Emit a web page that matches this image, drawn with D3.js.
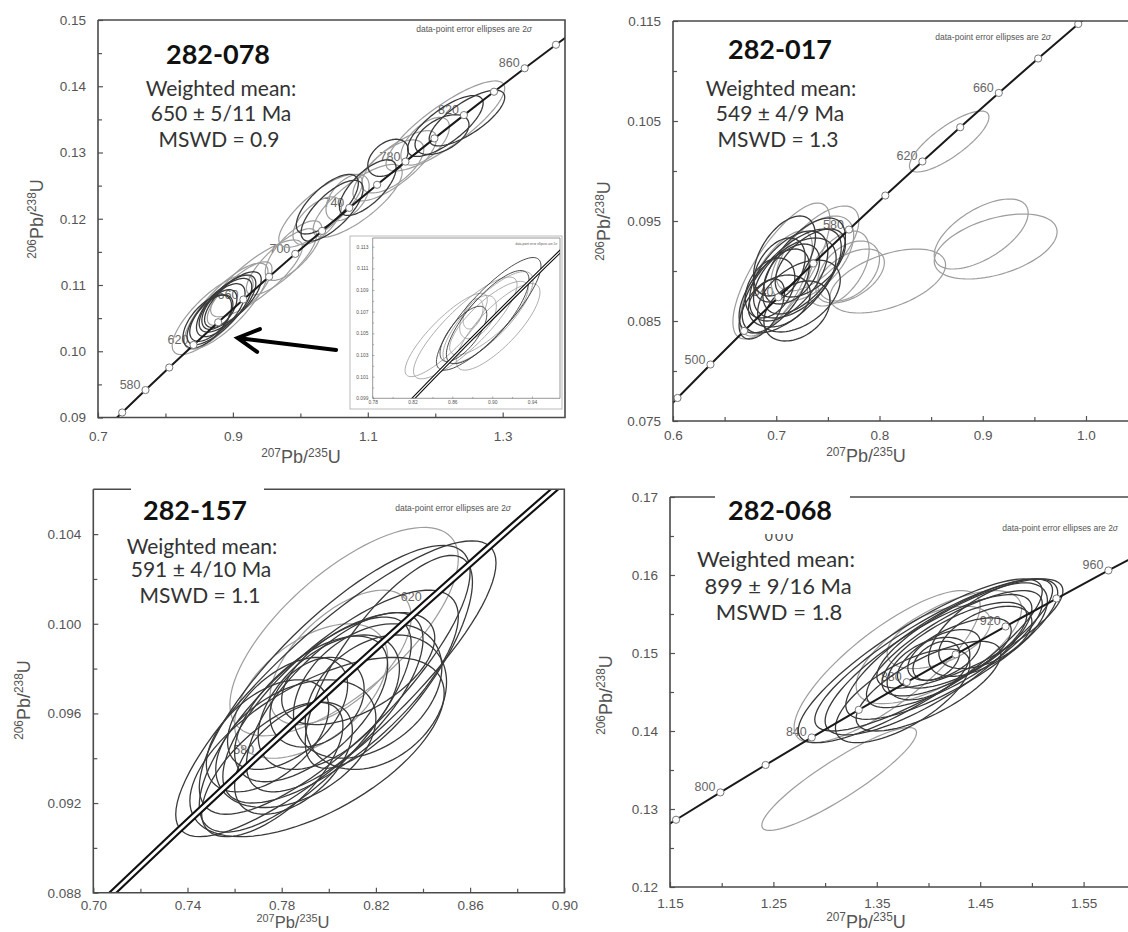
<!DOCTYPE html>
<html>
<head>
<meta charset="utf-8">
<script src="https://cdn.jsdelivr.net/npm/d3@7"></script>
<style>
  body { margin: 0; background: #fff; }
  svg { display: block; }
</style>
</head>
<body>
<svg id="fig" width="1128" height="932"></svg>
<script>
// concordia reference points: age (Ma), 207Pb/235U, 206Pb/238U
const concAge = [460, 480, 500, 520, 540, 560, 580, 600, 620, 640, 660, 680, 700, 720, 740, 760, 780, 800, 820, 840, 860, 880, 900, 920, 940, 960, 980, 1000];
const concX = [0.57307, 0.60437, 0.63628, 0.66883, 0.70203, 0.73588, 0.77041, 0.80563, 0.84155, 0.87818, 0.91554, 0.95365, 0.99251, 1.03214, 1.07257, 1.11380, 1.15585, 1.19873, 1.24247, 1.28708, 1.33257, 1.37897, 1.42630, 1.47456, 1.52378, 1.57399, 1.62519, 1.67741];
const concY = [0.073965, 0.077302, 0.08065, 0.084008, 0.087376, 0.090755, 0.094144, 0.097544, 0.100954, 0.104376, 0.107807, 0.111249, 0.114702, 0.118166, 0.12164, 0.125126, 0.128622, 0.132129, 0.135646, 0.139175, 0.142715, 0.146266, 0.149828, 0.153401, 0.156985, 0.16058, 0.164186, 0.167804];

// analyses: [207Pb/235U, 206Pb/238U, 2s x, 2s y, rho]; used = in weighted mean
const e078 = [
  [0.870, 0.1055, 0.060, 0.0060, 0.78], [0.880, 0.1060, 0.048, 0.0050, 0.75], [0.882, 0.1062, 0.036, 0.0040, 0.65],
  [0.892, 0.1072, 0.042, 0.0043, 0.70], [0.868, 0.1050, 0.032, 0.0035, 0.60], [0.900, 0.1078, 0.042, 0.0042, 0.72],
  [0.880, 0.1063, 0.026, 0.0030, 0.55], [0.910, 0.1087, 0.048, 0.0048, 0.78], [0.935, 0.1110, 0.068, 0.0058, 0.82],
  [0.972, 0.1135, 0.052, 0.0050, 0.80], [0.890, 0.1068, 0.062, 0.0065, 0.80], [0.862, 0.1045, 0.036, 0.0040, 0.60],
  [1.030, 0.1212, 0.062, 0.0055, 0.78], [1.040, 0.1222, 0.046, 0.0045, 0.70], [1.047, 0.1212, 0.046, 0.0046, 0.72],
  [1.085, 0.1227, 0.066, 0.0055, 0.78], [1.070, 0.1232, 0.032, 0.0035, 0.50], [1.100, 0.1247, 0.042, 0.0042, 0.70],
  [1.025, 0.1197, 0.036, 0.0036, 0.60], [1.140, 0.1280, 0.062, 0.0053, 0.78], [1.130, 0.1292, 0.030, 0.0028, 0.40],
  [1.137, 0.1279, 0.046, 0.0040, 0.65], [1.215, 0.1340, 0.088, 0.0068, 0.84], [1.215, 0.1340, 0.056, 0.0046, 0.75],
  [1.210, 0.1327, 0.040, 0.0030, 0.50], [1.185, 0.1317, 0.036, 0.0036, 0.60], [1.247, 0.1352, 0.056, 0.0042, 0.75],
  [0.990, 0.1152, 0.042, 0.0045, 0.72]
];
const used078 = [0, 1, 1, 1, 1, 1, 1, 0, 0, 0, 0, 1, 0, 1, 1, 0, 0, 1, 0, 0, 1, 0, 0, 1, 1, 0, 1, 0];

// inset of 282-078 (young cluster)
const e078i = [
  [0.8538, 0.10485, 0.0413, 0.00385, 0.85], [0.8965, 0.1068, 0.0525, 0.0052, 0.85], [0.8958, 0.10645, 0.0452, 0.00425, 0.80],
  [0.8967, 0.1064, 0.0394, 0.0034, 0.80], [0.8858, 0.1065, 0.0184, 0.0020, 0.50], [0.8808, 0.1068, 0.0100, 0.0014, 0.40],
  [0.8711, 0.10495, 0.0235, 0.00255, 0.70], [0.873, 0.1055, 0.052, 0.0047, 0.85], [0.906, 0.1056, 0.042, 0.0040, 0.80],
  [0.8955, 0.1065, 0.0415, 0.0043, 0.80]
];
const used078i = [0, 1, 0, 0, 0, 0, 1, 0, 0, 1];

const e017 = [
  [0.8675, 0.10295, 0.0385, 0.00305, 0.80], [0.8985, 0.0937, 0.0455, 0.0035, 0.60], [0.9125, 0.09245, 0.0595, 0.00325, 0.45],
  [0.808, 0.0890, 0.056, 0.0032, 0.50], [0.7716, 0.0895, 0.0331, 0.0027, 0.50], [0.715, 0.0890, 0.048, 0.0052, 0.65],
  [0.712, 0.0895, 0.038, 0.0045, 0.55], [0.718, 0.0893, 0.040, 0.0040, 0.50], [0.715, 0.0897, 0.027, 0.0030, 0.45],
  [0.698, 0.0880, 0.034, 0.0042, 0.60], [0.722, 0.0875, 0.040, 0.0036, 0.45], [0.694, 0.0883, 0.024, 0.0030, 0.35],
  [0.733, 0.0908, 0.034, 0.0034, 0.55], [0.703, 0.0901, 0.025, 0.0032, 0.40], [0.703, 0.0870, 0.030, 0.0026, 0.30],
  [0.720, 0.0860, 0.032, 0.0030, 0.35], [0.686, 0.0862, 0.022, 0.0030, 0.55], [0.705, 0.0900, 0.047, 0.0068, 0.75],
  [0.740, 0.09225, 0.040, 0.00425, 0.65], [0.760, 0.09025, 0.030, 0.00375, 0.50], [0.700, 0.08875, 0.035, 0.00525, 0.70],
  [0.735, 0.09125, 0.040, 0.00425, 0.55], [0.770, 0.0900, 0.030, 0.0030, 0.40], [0.727, 0.0905, 0.040, 0.0048, 0.60],
  [0.708, 0.0915, 0.030, 0.0040, 0.50]
];
const used017 = [0, 0, 0, 0, 0, 1, 1, 1, 1, 1, 1, 1, 1, 1, 1, 1, 1, 0, 0, 0, 0, 0, 0, 1, 1];

const e157 = [
  [0.8065, 0.09965, 0.0485, 0.00465, 0.70], [0.803, 0.0971, 0.068, 0.0066, 0.85], [0.795, 0.0945, 0.054, 0.0040, 0.60],
  [0.8025, 0.0975, 0.0575, 0.0060, 0.80], [0.805, 0.09675, 0.050, 0.00475, 0.75], [0.8025, 0.0965, 0.0375, 0.0040, 0.70],
  [0.7925, 0.0962, 0.0325, 0.00325, 0.60], [0.800, 0.0965, 0.030, 0.0030, 0.50], [0.795, 0.0965, 0.020, 0.0020, 0.30],
  [0.8125, 0.0980, 0.0325, 0.0025, 0.55], [0.8165, 0.0970, 0.0315, 0.0030, 0.35], [0.820, 0.0965, 0.030, 0.0030, 0.30],
  [0.785, 0.0940, 0.025, 0.0025, 0.50], [0.786, 0.09465, 0.034, 0.00285, 0.40], [0.774, 0.0950, 0.026, 0.0025, 0.50],
  [0.7825, 0.0960, 0.0255, 0.0025, 0.50], [0.7925, 0.0970, 0.0325, 0.0030, 0.50], [0.805, 0.0985, 0.030, 0.0030, 0.60],
  [0.8255, 0.0983, 0.0355, 0.00475, 0.75], [0.790, 0.0955, 0.045, 0.0048, 0.75], [0.776, 0.0935, 0.030, 0.0030, 0.65]
];
const used157 = [0, 1, 1, 1, 1, 1, 1, 1, 1, 1, 1, 1, 1, 1, 1, 1, 0, 0, 1, 1, 1];

const e068 = [
  [1.3136, 0.13385, 0.0748, 0.0066, 0.90], [1.360, 0.14825, 0.090, 0.00975, 0.80], [1.392, 0.1490, 0.118, 0.0105, 0.85],
  [1.405, 0.14975, 0.115, 0.00975, 0.85], [1.4225, 0.1505, 0.1025, 0.0090, 0.80], [1.400, 0.1485, 0.100, 0.0090, 0.80],
  [1.425, 0.1505, 0.085, 0.0075, 0.78], [1.425, 0.1505, 0.070, 0.0060, 0.72], [1.425, 0.1500, 0.055, 0.0045, 0.65],
  [1.415, 0.14975, 0.035, 0.00325, 0.50], [1.4075, 0.1490, 0.0225, 0.0025, 0.40], [1.400, 0.14575, 0.070, 0.00575, 0.72],
  [1.375, 0.1445, 0.065, 0.0060, 0.68], [1.455, 0.1520, 0.045, 0.0040, 0.50], [1.400, 0.1480, 0.040, 0.0040, 0.45],
  [1.440, 0.1525, 0.090, 0.0070, 0.78], [1.4575, 0.1530, 0.0575, 0.0060, 0.62], [1.410, 0.15075, 0.080, 0.00725, 0.68],
  [1.410, 0.1520, 0.050, 0.0040, 0.50]
];
const used068 = [0, 0, 1, 1, 1, 1, 1, 1, 1, 1, 1, 1, 1, 1, 1, 1, 1, 0, 0];

// labelled concordia ages
const lab078 = [580, 620, 660, 700, 740, 780, 820, 860];
const lab017 = [500, 540, 580, 620, 660];
const lab157 = [580, 620];
const lab068 = [800, 840, 880, 920, 960];

// sample texts
const samples = ["282-078", "282-017", "282-157", "282-068"];
const ages = ["650 \u00b1 5/11 Ma", "549 \u00b1 4/9 Ma", "591 \u00b1 4/10 Ma", "899 \u00b1 9/16 Ma"];
const mswd = ["MSWD = 0.9", "MSWD = 1.3", "MSWD = 1.1", "MSWD = 1.8"];

// tick values
const x078 = [0.7, 0.9, 1.1, 1.3], x078m = [0.8, 1.0, 1.2];
const y078 = [0.09, 0.10, 0.11, 0.12, 0.13, 0.14, 0.15], y078m = [0.095, 0.105, 0.115, 0.125, 0.135, 0.145];
const x078i = [0.78, 0.82, 0.86, 0.90, 0.94], x078im = [0.80, 0.84, 0.88, 0.92];
const y078i = [0.099, 0.101, 0.103, 0.105, 0.107, 0.109, 0.111, 0.113], y078im = [0.100, 0.102, 0.104, 0.106, 0.108, 0.110, 0.112];
const x017 = [0.6, 0.7, 0.8, 0.9, 1.0], x017m = [0.65, 0.75, 0.85, 0.95];
const y017 = [0.075, 0.085, 0.095, 0.105, 0.115], y017m = [0.08, 0.09, 0.10, 0.11];
const x157 = [0.70, 0.74, 0.78, 0.82, 0.86, 0.90], x157m = [0.72, 0.76, 0.80, 0.84, 0.88];
const y157 = [0.088, 0.092, 0.096, 0.100, 0.104], y157m = [0.090, 0.094, 0.098, 0.102];
const x068 = [1.15, 1.25, 1.35, 1.45, 1.55], x068m = [1.20, 1.30, 1.40, 1.50];
const y068 = [0.12, 0.13, 0.14, 0.15, 0.16, 0.17], y068m = [0.125, 0.135, 0.145, 0.155, 0.165];

const conc = concAge.map((a, i) => ({ age: a, x: concX[i], y: concY[i] }));

const svg = d3.select("#fig");
svg.append("rect").attr("width", 1128).attr("height", 932).attr("fill", "#fff");

const sans = "'Liberation Sans', Arial, sans-serif";
const cal = "Lato, 'Open Sans', sans-serif";

function ellipsePts(e) {
  const [cx, cy, sx, sy, r] = e;
  const q = Math.sqrt(1 - r * r);
  return d3.range(0, 360, 4).map(a => {
    const t = a * Math.PI / 180;
    return [cx + sx * Math.cos(t), cy + sy * (r * Math.cos(t) + q * Math.sin(t))];
  });
}

function isoTitle(g, x, y, rot, a, b, c, d, fs) {
  const t = g.append("text")
    .attr("transform", `translate(${x},${y}) rotate(${rot})`)
    .attr("text-anchor", "middle")
    .attr("font-family", sans)
    .attr("fill", "#555")
    .attr("font-size", fs);
  t.append("tspan").attr("font-size", fs * 0.66).attr("dy", -fs * 0.36).text(a);
  t.append("tspan").attr("dy", fs * 0.36).text(b);
  t.append("tspan").attr("font-size", fs * 0.66).attr("dy", -fs * 0.36).text(c);
  t.append("tspan").attr("dy", fs * 0.36).text(d);
}

function drawPanel(p) {
  const g = svg.append("g");
  const [L, T, R, B] = p.frame;
  const x = d3.scaleLinear().domain(p.xd).range(p.xr);
  const y = d3.scaleLinear().domain(p.yd).range(p.yr);
  const inX = v => x(v) >= L - 0.5 && x(v) <= R + 0.5;
  const inY = v => y(v) >= T - 0.5 && y(v) <= B + 0.5;
  const s = p.scale || 1;

  if (p.box) {
    g.append("rect").attr("x", p.box[0]).attr("y", p.box[1])
      .attr("width", p.box[2] - p.box[0]).attr("height", p.box[3] - p.box[1])
      .attr("fill", "#fff").attr("stroke", "#aaa").attr("stroke-width", 0.8);
  }

  const clipId = "clip" + p.name;
  svg.append("clipPath").attr("id", clipId).append("rect")
    .attr("x", L).attr("y", T).attr("width", R - L).attr("height", B - T);
  const plot = g.append("g").attr("clip-path", `url(#${clipId})`);

  const pts = conc.filter(d => inX(d.x) || inX(d.x - 0.05) || inX(d.x + 0.05));

  // concordia age labels
  plot.selectAll("text.age").data(conc.filter(d => p.labels.includes(d.age)))
    .join("text").attr("class", "age")
    .attr("x", d => x(d.x) - 5 * s).attr("y", d => y(d.y) - 1 * s)
    .attr("text-anchor", "end").attr("font-family", sans)
    .attr("font-size", 12.5 * s).attr("fill", "#666")
    .text(d => d.age);

  // error ellipses, rejected first
  const line = d3.line().x(d => x(d[0])).y(d => y(d[1])).curve(d3.curveLinearClosed);
  const ell = p.ell.map((e, i) => ({ e, used: p.used[i] }));
  ell.sort((a, b) => a.used - b.used);
  plot.selectAll("path.ell").data(ell).join("path").attr("class", "ell")
    .attr("d", d => line(ellipsePts(d.e)))
    .attr("fill", "none")
    .attr("stroke", d => d.used ? "#3a3a3a" : "#9d9d9d")
    .attr("stroke-width", d => (d.used ? 1.3 : 1.2) * (p.scale ? 0.7 : 1));

  // concordia
  const cline = d3.line().x(d => x(d.x)).y(d => y(d.y)).curve(d3.curveMonotoneX);
  if (p.band) {
    plot.append("path").attr("d", cline(pts)).attr("fill", "none")
      .attr("stroke", "#111").attr("stroke-width", p.band[0]);
    plot.append("path").attr("d", cline(pts)).attr("fill", "none")
      .attr("stroke", "#fff").attr("stroke-width", p.band[1]);
  } else {
    plot.append("path").attr("d", cline(pts)).attr("fill", "none")
      .attr("stroke", "#1a1a1a").attr("stroke-width", 2);
    plot.selectAll("circle").data(pts).join("circle")
      .attr("cx", d => x(d.x)).attr("cy", d => y(d.y)).attr("r", 3.6)
      .attr("fill", "#fff").attr("stroke", "#777").attr("stroke-width", 1);
  }

  // axes
  const fs = 13.5 * s;
  const styleAxis = a => {
    a.select(".domain").remove();
    a.attr("color", "#555").attr("font-family", sans).attr("font-size", fs);
    a.selectAll("text").attr("fill", "#555");
    a.selectAll("line").attr("stroke-width", 1.2 * s);
  };
  g.append("g").attr("transform", `translate(0,${B})`)
    .call(d3.axisBottom(x).tickValues(p.xt.filter(inX)).tickSize(-5 * s).tickPadding(p.xPad * s).tickFormat(d3.format(p.xf)))
    .call(styleAxis);
  g.append("g").attr("transform", `translate(0,${B})`)
    .call(d3.axisBottom(x).tickValues(p.xm.filter(inX)).tickSize(-4 * s).tickFormat(() => ""))
    .call(styleAxis);
  g.append("g").attr("transform", `translate(${L},0)`)
    .call(d3.axisLeft(y).tickValues(p.yt.filter(inY)).tickSize(-5 * s).tickPadding(12 * s).tickFormat(d3.format(p.yf)))
    .call(styleAxis);
  g.append("g").attr("transform", `translate(${L},0)`)
    .call(d3.axisLeft(y).tickValues(p.ym.filter(inY)).tickSize(-4 * s).tickFormat(() => ""))
    .call(styleAxis);

  // frame (with an optional gap behind the sample title)
  let fr = `M${L},${T}V${B}H${R}V${T}`;
  if (p.gap) fr += `H${p.gap[1]}M${p.gap[0]},${T}H${L}`; else fr += `H${L}`;
  g.append("path").attr("d", fr).attr("fill", "none")
    .attr("stroke", "#4a4a4a").attr("stroke-width", 1.6 * s);

  // note
  const note = g.append("text").attr("x", p.note[0]).attr("y", p.note[1])
    .attr("text-anchor", "end").attr("font-family", sans)
    .attr("font-size", 8.5 * s).attr("fill", "#555")
    .text("data-point error ellipses are 2");
  note.append("tspan").attr("font-style", "italic").text("\u03c3");

  if (p.xTitle) isoTitle(g, p.xTitle[0], p.xTitle[1], 0, "207", "Pb/", "235", "U", p.tfs || 18);
  if (p.yTitle) isoTitle(g, p.yTitle[0], p.yTitle[1], -90, "206", "Pb/", "238", "U", 18);

  return { g, x, y };
}

function statText(i, cx, lines, wmSize) {
  const g = svg.append("g").attr("text-anchor", "middle").attr("font-family", cal);
  g.append("text").attr("x", cx[0]).attr("y", lines[0]).attr("font-size", 27)
    .attr("font-weight", 700).attr("fill", "#111").text(samples[i]);
  g.append("text").attr("x", cx[1]).attr("y", lines[1]).attr("font-size", wmSize)
    .attr("fill", "#333").text("Weighted mean:");
  g.append("text").attr("x", cx[2]).attr("y", lines[2]).attr("font-size", wmSize)
    .attr("fill", "#333").text(ages[i]);
  g.append("text").attr("x", cx[3]).attr("y", lines[3]).attr("font-size", wmSize)
    .attr("fill", "#333").text(mswd[i]);
  return g;
}

// 282-078
const p1 = drawPanel({
  name: "078", frame: [98, 20, 565, 417.5],
  xd: [0.7, 1.3], xr: [98, 502.7], yd: [0.09, 0.15], yr: [417.5, 20],
  xt: x078, xm: x078m, yt: y078, ym: y078m, xf: ".1f", yf: ".2f", xPad: 14,
  ell: e078, used: used078, labels: lab078,
  note: [532, 31.5], xTitle: [301, 463], yTitle: [42.5, 219]
});
statText(0, [218, 221, 221, 219], [64, 96, 121, 146.5], 21);

// inset
drawPanel({
  name: "078i", frame: [372.7, 238, 560, 398.3], box: [350, 236, 562, 409], scale: 0.36,
  xd: [0.78, 0.94], xr: [372.7, 532], yd: [0.099, 0.113], yr: [398.3, 246.7],
  xt: x078i, xm: x078im, yt: y078i, ym: y078im, xf: ".2f", yf: ".3f", xPad: 6,
  ell: e078i, used: used078i, labels: [], band: [3.4, 1.2],
  note: [557, 245]
});

// arrow pointing at the young cluster
const arrowTail = [1.053, 0.1002], arrowTip = [0.907, 0.1020];
{
  const tx = p1.x(arrowTail[0]), ty = p1.y(arrowTail[1]);
  const hx = p1.x(arrowTip[0]), hy = p1.y(arrowTip[1]);
  const ang = Math.atan2(ty - hy, tx - hx);
  const len = 24, spread = 0.5;
  const a1 = [hx + len * Math.cos(ang - spread), hy + len * Math.sin(ang - spread)];
  const a2 = [hx + len * Math.cos(ang + spread), hy + len * Math.sin(ang + spread)];
  p1.g.append("path")
    .attr("d", `M${tx},${ty}L${hx},${hy}M${a1[0]},${a1[1]}L${hx},${hy}L${a2[0]},${a2[1]}`)
    .attr("fill", "none").attr("stroke", "#000").attr("stroke-width", 4)
    .attr("stroke-linecap", "round").attr("stroke-linejoin", "miter");
}

// 282-017
drawPanel({
  name: "017", frame: [673, 21, 1140, 421],
  xd: [0.6, 1.0], xr: [673, 1086], yd: [0.075, 0.115], yr: [421, 21],
  xt: x017, xm: x017m, yt: y017, ym: y017m, xf: ".1f", yf: ".3f", xPad: 9.5,
  ell: e017, used: used017, labels: lab017,
  note: [1051, 40], xTitle: [866, 462], yTitle: [610, 221]
});
statText(1, [780, 781, 780, 778], [59, 96, 121, 146.5], 21);

// 282-157
drawPanel({
  name: "157", frame: [93.3, 489.3, 564.3, 892.7], gap: [131, 264],
  xd: [0.70, 0.90], xr: [93.3, 564.3], yd: [0.088, 0.106], yr: [892.7, 489.3],
  xt: x157, xm: x157m, yt: y157, ym: y157m, xf: ".2f", yf: ".3f", xPad: 8,
  ell: e157, used: used157, labels: lab157, band: [7, 2.8],
  note: [511, 511], xTitle: [293, 927.5], yTitle: [29.5, 700], tfs: 16.5
});
statText(2, [195, 202, 201, 200], [519.5, 553.5, 577, 603], 21);

// 282-068
drawPanel({
  name: "068", frame: [670, 497, 1140, 887], gap: [715, 850],
  xd: [1.15, 1.55], xr: [670, 1083.6], yd: [0.12, 0.17], yr: [887, 497],
  xt: x068, xm: x068m, yt: y068, ym: y068m, xf: ".2f", yf: ".2f", xPad: 11.5,
  ell: e068, used: used068, labels: lab068,
  note: [1118, 531], xTitle: [866, 927.5], yTitle: [611.5, 695]
});
const s4 = statText(3, [780, 776, 778, 779], [519.5, 567, 593.5, 620], 22);
// partly hidden leftover label under the title
svg.append("clipPath").attr("id", "clipLeft").append("rect")
  .attr("x", 740).attr("y", 534).attr("width", 80).attr("height", 8);
s4.append("text").attr("x", 780).attr("y", 541).attr("font-size", 14)
  .attr("letter-spacing", 2).attr("fill", "#444")
  .attr("clip-path", "url(#clipLeft)").text("000");
</script>
</body>
</html>
